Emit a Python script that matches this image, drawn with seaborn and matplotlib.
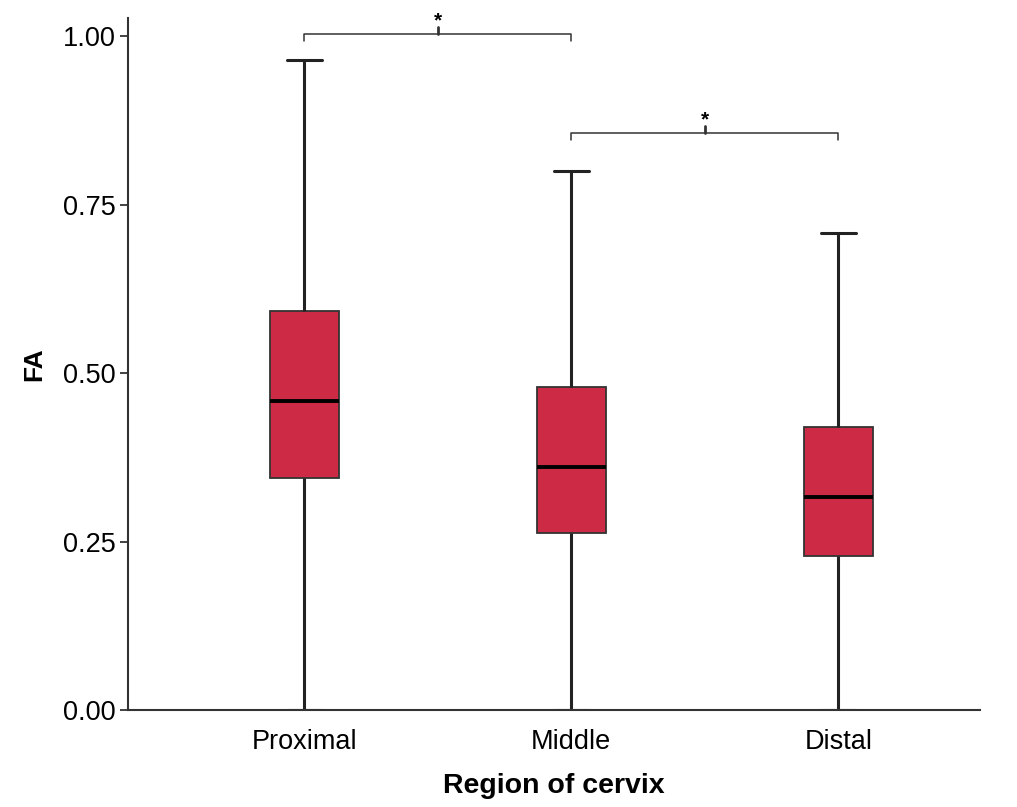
import numpy as np
import pandas as pd
import matplotlib
matplotlib.use("Agg")
import matplotlib.pyplot as plt
import seaborn as sns

# five-number summaries (min, q1, median, q3, max)
regions = ["Proximal", "Middle", "Distal"]
proximal = [0.0, 0.345, 0.459, 0.592, 0.964]
middle = [0.0, 0.262, 0.360, 0.479, 0.800]
distal = [0.0, 0.228, 0.316, 0.420, 0.708]
yticks = [0.00, 0.25, 0.50, 0.75, 1.00]

df = pd.DataFrame({
    "region": np.repeat(regions, 5),
    "FA": proximal + middle + distal,
})

sns.set_style("white")
plt.rcParams["font.family"] = ["Liberation Sans", "DejaVu Sans"]
plt.rcParams["text.color"] = "black"
plt.rcParams["axes.labelcolor"] = "black"
plt.rcParams["xtick.color"] = "black"
plt.rcParams["ytick.color"] = "black"

fig = plt.figure(figsize=(10.17, 8.07), dpi=100)
ax = fig.add_axes([0.1259, 0.1202, 0.8377, 0.8575])

sns.boxplot(data=df, x="region", y="FA", order=regions, color="#cd2b45",
            saturation=1, width=0.26, whis=(0, 100), ax=ax,
            boxprops=dict(edgecolor="#333333", linewidth=1.3),
            whiskerprops=dict(color="#222222", linewidth=2.2),
            capprops=dict(color="#222222", linewidth=2.2),
            medianprops=dict(color="black", linewidth=2.8))

ax.set_xlim(-0.66, 2.53)
ax.set_ylim(0, 1.027)
ax.set_yticks(yticks)
ax.set_yticklabels([f"{v:.2f}" for v in yticks])
ax.tick_params(axis="y", left=True, length=6, width=1.3, color="#333333",
               labelsize=19.5, pad=3)
ax.tick_params(axis="x", bottom=False, labelsize=19.5, pad=10)
for s in ["top", "right"]:
    ax.spines[s].set_visible(False)
for s in ["left", "bottom"]:
    ax.spines[s].set_color("#333333")
    ax.spines[s].set_linewidth(1.5)

ax.set_xlabel("Region of cervix", fontsize=20.5, fontweight="bold", labelpad=13)
ax.set_ylabel("FA", fontsize=19, fontweight="bold", labelpad=12)


def bracket(x1, x2, y, h=0.01):
    ax.plot([x1, x1, x2, x2], [y - h, y, y, y - h], color="#333333", lw=1.1,
            clip_on=False)
    xm = (x1 + x2) / 2
    ax.plot([xm, xm], [y, y + h], color="#333333", lw=2, clip_on=False)
    ax.text(xm, y + 0.02, "*", ha="center", va="center", fontsize=15,
            fontweight="bold")


bracket(0, 1, 1.003)
bracket(1, 2, 0.856)

fig.savefig("out.png", dpi=100)
